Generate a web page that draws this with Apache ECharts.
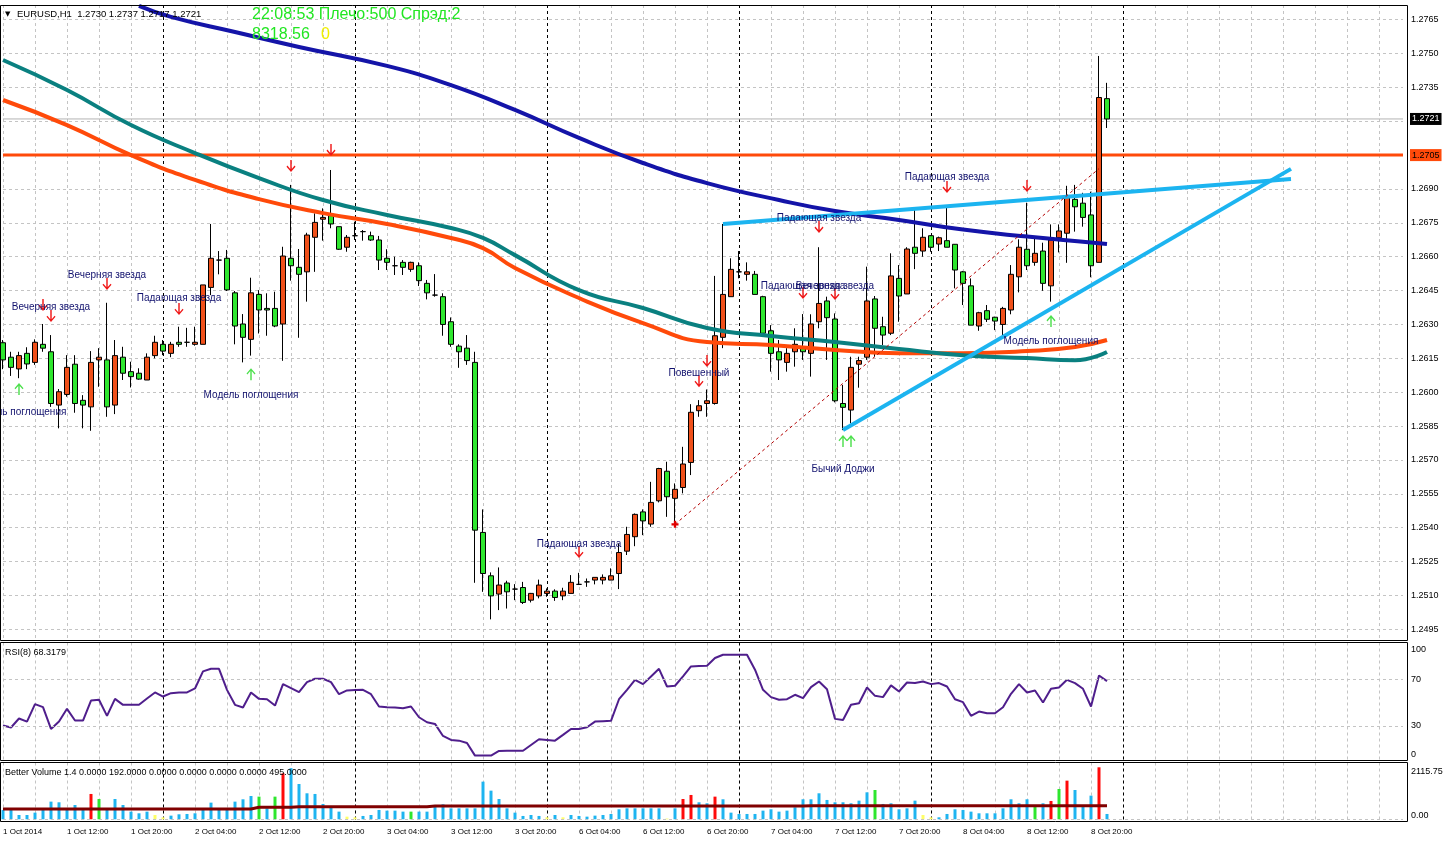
<!DOCTYPE html>
<html>
<head>
<meta charset="utf-8">
<script src="https://cdn.jsdelivr.net/npm/echarts@6/dist/echarts.min.js"></script>
<style>
html, body { margin: 0; padding: 0; background: #fff; }
#chart { width: 1448px; height: 842px; }
</style>
</head>
<body>
<div id="chart"></div>
<script>
// EURUSD H1, 1 Oct 04:00 .. 8 Oct 22:00 (139 bars), empty slots to the right
var categories = Array.from({ length: 176 }, function (_, i) { return String(i); });
var tickLabels = ['1 Oct 2014', '1 Oct 12:00', '1 Oct 20:00', '2 Oct 04:00', '2 Oct 12:00', '2 Oct 20:00',
  '3 Oct 04:00', '3 Oct 12:00', '3 Oct 20:00', '6 Oct 04:00', '6 Oct 12:00', '6 Oct 20:00',
  '7 Oct 04:00', '7 Oct 12:00', '7 Oct 20:00', '8 Oct 04:00', '8 Oct 12:00', '8 Oct 20:00'];
var dayStarts = [20, 44, 68, 92, 116, 140];

var open = [1.26219,1.26155,1.26103,1.26172,1.26132,1.26212,1.26179,1.25943,1.25990,1.26124,
  1.25964,1.25935,1.26143,1.26143,1.25943,1.26155,1.26091,1.26084,1.26054,1.26162,
  1.26212,1.26172,1.26221,1.26221,1.26212,1.26212,1.26464,1.26585,1.26593,1.26440,
  1.26302,1.26234,1.26433,1.26371,1.26371,1.26302,1.26593,1.26553,1.26533,1.26686,
  1.26766,1.26782,1.26733,1.26642,1.26693,1.26711,1.26693,1.26674,1.26593,1.26560,
  1.26575,1.26544,1.26560,1.26482,1.26430,1.26423,1.26312,1.26204,1.26195,1.26132,
  1.25379,1.25187,1.25106,1.25155,1.25128,1.25135,1.25079,1.25098,1.25109,1.25119,
  1.25098,1.25109,1.25149,1.25160,1.25168,1.25168,1.25168,1.25197,1.25296,1.25360,
  1.25470,1.25416,1.25519,1.25650,1.25530,1.25578,1.25689,1.25918,1.25950,1.25950,
  1.26243,1.26423,1.26533,1.26522,1.26522,1.26423,1.26272,1.26179,1.26132,1.26179,
  1.26201,1.26172,1.26312,1.26404,1.26324,1.25950,1.25921,1.26124,1.26155,1.26413,
  1.26290,1.26261,1.26504,1.26435,1.26642,1.26625,1.26693,1.26656,1.26671,1.26655,
  1.26533,1.26471,1.26293,1.26361,1.26332,1.26300,1.26364,1.26511,1.26633,1.26575,
  1.26625,1.26471,1.26684,1.26704,1.26854,1.26837,1.26785,1.26575,1.27300];
var high = [1.26231,1.26179,1.26179,1.26199,1.26234,1.26302,1.26253,1.26014,1.26164,1.26164,
  1.25987,1.26182,1.26195,1.26396,1.26231,1.26201,1.26135,1.26106,1.26172,1.26250,
  1.26231,1.26223,1.26290,1.26285,1.26290,1.26475,1.26745,1.26625,1.26630,1.26448,
  1.26346,1.26507,1.26452,1.26438,1.26445,1.26644,1.26918,1.26634,1.26706,1.26792,
  1.26814,1.26984,1.26733,1.26696,1.26755,1.26718,1.26711,1.26692,1.26633,1.26600,
  1.26585,1.26578,1.26575,1.26497,1.26523,1.26438,1.26331,1.26212,1.26253,1.26179,
  1.25481,1.25202,1.25224,1.25165,1.25150,1.25160,1.25111,1.25170,1.25131,1.25127,
  1.25134,1.25190,1.25200,1.25175,1.25180,1.25193,1.25220,1.25330,1.25404,1.25463,
  1.25481,1.25603,1.25665,1.25692,1.25596,1.25758,1.25947,1.25965,1.26012,1.26515,
  1.26745,1.26593,1.26625,1.26575,1.26537,1.26427,1.26297,1.26231,1.26195,1.26283,
  1.26346,1.26345,1.26642,1.26423,1.26349,1.26032,1.26157,1.26157,1.26556,1.26426,
  1.26334,1.26615,1.26563,1.26642,1.26817,1.26726,1.26696,1.26689,1.26825,1.26656,
  1.26537,1.26504,1.26356,1.26386,1.26334,1.26378,1.26563,1.26677,1.26839,1.26681,
  1.26662,1.26743,1.26743,1.26914,1.26918,1.26883,1.26888,1.27489,1.27370];
var low = [1.26102,1.26072,1.26062,1.26102,1.26121,1.26179,1.25935,1.25840,1.25980,1.25909,
  1.25840,1.25829,1.26024,1.25891,1.25903,1.26054,1.26021,1.26055,1.26054,1.26150,
  1.26164,1.26155,1.26201,1.26201,1.26206,1.26212,1.26430,1.26522,1.26448,1.26212,
  1.26132,1.26162,1.26260,1.26250,1.26288,1.26139,1.26494,1.26241,1.26401,1.26533,
  1.26671,1.26726,1.26630,1.26622,1.26674,1.26671,1.26670,1.26541,1.26541,1.26519,
  1.26519,1.26533,1.26470,1.26411,1.26423,1.26250,1.26201,1.26108,1.26121,1.25156,
  1.25116,1.24994,1.25035,1.25042,1.25079,1.25062,1.25069,1.25087,1.25094,1.25076,
  1.25079,1.25109,1.25146,1.25138,1.25149,1.25149,1.25168,1.25128,1.25279,1.25318,
  1.25367,1.25404,1.25512,1.25448,1.25414,1.25552,1.25633,1.25891,1.25891,1.25945,
  1.26195,1.26423,1.26504,1.26494,1.26433,1.26261,1.26091,1.26054,1.26091,1.26113,
  1.26143,1.26069,1.26283,1.26143,1.25955,1.25832,1.25862,1.26020,1.26143,1.26157,
  1.26209,1.26253,1.26312,1.26435,1.26545,1.26600,1.26622,1.26625,1.26642,1.26460,
  1.26386,1.26297,1.26272,1.26311,1.26275,1.26238,1.26345,1.26442,1.26541,1.26560,
  1.26449,1.26401,1.26619,1.26573,1.26711,1.26733,1.26509,1.26575,1.27170];
var close = [1.26143,1.26110,1.26162,1.26125,1.26221,1.26195,1.25950,1.26002,1.26110,1.25950,
  1.25943,1.26132,1.26155,1.25935,1.26162,1.26084,1.26069,1.26058,1.26155,1.26221,
  1.26182,1.26212,1.26212,1.26221,1.26221,1.26475,1.26593,1.26585,1.26453,1.26293,
  1.26243,1.26440,1.26364,1.26364,1.26293,1.26603,1.26560,1.26522,1.26696,1.26752,
  1.26774,1.26745,1.26633,1.26686,1.26693,1.26711,1.26674,1.26585,1.26575,1.26560,
  1.26553,1.26575,1.26494,1.26440,1.26430,1.26300,1.26212,1.26179,1.26140,1.25389,
  1.25197,1.25098,1.25146,1.25116,1.25128,1.25069,1.25109,1.25146,1.25119,1.25091,
  1.25119,1.25158,1.25149,1.25160,1.25180,1.25180,1.25187,1.25290,1.25370,1.25459,
  1.25430,1.25512,1.25662,1.25537,1.25570,1.25682,1.25911,1.25940,1.25962,1.26250,
  1.26433,1.26544,1.26533,1.26533,1.26433,1.26261,1.26172,1.26143,1.26172,1.26212,
  1.26179,1.26302,1.26393,1.26330,1.25962,1.25933,1.26110,1.26140,1.26404,1.26283,
  1.26253,1.26515,1.26426,1.26634,1.26615,1.26686,1.26642,1.26684,1.26642,1.26541,
  1.26482,1.26297,1.26352,1.26323,1.26315,1.26371,1.26522,1.26642,1.26560,1.26615,
  1.26482,1.26674,1.26714,1.26863,1.26821,1.26774,1.26560,1.27305,1.27210];

// moving averages, read at sampled bars: [bar, price]
var maNavy = [[17,1.27711],[21,1.27662],[29,1.27595],[37,1.27529],[48,1.27445],[56,1.27360],[64,1.27250],
  [72,1.27126],[80,1.27015],[88,1.26926],[97,1.26851],[104,1.26802],[112,1.26763],[120,1.26720],
  [128,1.26689],[136,1.26663],[138,1.26656]];
var maTeal = [[0,1.27471],[8,1.27338],[16,1.27183],[24,1.27059],[32,1.26948],[40,1.26851],[48,1.26785],
  [56,1.26727],[60,1.26683],[64,1.26607],[72,1.26452],[80,1.26373],[88,1.26284],[96,1.26249],
  [104,1.26222],[112,1.26191],[120,1.26164],[128,1.26151],[134,1.26142],[138,1.26178]];
var maOrange = [[0,1.27294],[8,1.27183],[16,1.27050],[24,1.26940],[32,1.26855],[40,1.26793],[48,1.26745],
  [56,1.26683],[60,1.26638],[64,1.26550],[72,1.26417],[80,1.26306],[88,1.26222],[96,1.26209],
  [104,1.26187],[112,1.26173],[120,1.26173],[128,1.26182],[134,1.26200],[138,1.26231]];

// drawn objects
var resistanceLine = [[90, 1.26745], [161, 1.26944]];
var supportLine = [[105, 1.25833], [161, 1.26989]];
var dottedTrend = [[84, 1.25415], [137, 1.26990]];
var levelPrice = 1.2705;
var bidPrice = 1.2721;

// candle pattern signals
var arrowsDown = [[5,1.26386],[6,1.26337],[13,1.26479],[22,1.26368],[36,1.27002],[41,1.27073],[72,1.25292],
  [87,1.26049],[88,1.26138],[102,1.26732],[100,1.26439],[104,1.26435],[118,1.26909],[128,1.26913]];
var arrowsUp = [[2,1.26014],[31,1.26080],[105,1.25784],[106,1.25784],[131,1.26315]];
var patternLabels = [
  [6, 1.26377, 'Вечерняя звезда'],
  [13, 1.26519, 'Вечерняя звезда'],
  [22, 1.26417, 'Падающая звезда'],
  [2, 1.25913, 'Модель поглощения'],
  [31, 1.25988, 'Модель поглощения'],
  [72, 1.25327, 'Падающая звезда'],
  [87, 1.26085, 'Повешенный'],
  [102, 1.26772, 'Падающая звезда'],
  [100, 1.26470, 'Падающая звезда'],
  [104, 1.26470, 'Вечерняя звезда'],
  [105, 1.25660, 'Бычий Доджи'],
  [118, 1.26953, 'Падающая звезда'],
  [131, 1.26227, 'Модель поглощения']
];

// RSI(8)
var rsi = [30.3,28.6,36.3,33.7,48.6,46.0,27.4,33.7,44.6,34.6,
  34.6,51.7,52.3,38.6,53.1,48.0,48.0,48.0,53.4,58.6,
  55.1,58.0,58.6,58.6,62.0,76.6,78.8,78.8,60.8,48.0,
  45.7,58.6,53.1,52.8,47.4,65.7,62.3,58.8,67.4,70.3,
  70.3,67.4,57.1,60.3,60.6,60.8,57.1,46.6,46.0,45.7,
  45.1,46.6,37.4,33.1,31.7,21.4,18.0,17.4,15.4,4.6,
  4.6,4.6,8.6,8.8,8.8,8.8,13.7,18.6,18.0,17.4,
  22.3,27.4,27.4,28.8,33.7,34.0,34.3,52.8,60.8,69.4,
  65.7,72.3,78.8,63.7,64.3,72.3,80.8,81.1,81.4,88.0,
  90.8,90.8,90.8,90.8,78.0,60.8,54.6,52.3,52.8,56.6,
  53.7,63.1,68.0,61.4,36.0,35.1,48.0,49.4,62.8,55.7,
  54.6,64.6,59.4,67.1,66.6,68.0,65.7,66.6,63.7,52.8,
  50.3,38.6,42.3,40.8,40.8,46.0,57.4,65.7,58.6,60.3,
  50.0,61.7,62.8,69.4,66.6,61.7,46.6,73.1,68.3];

// Better Volume
var volume = [380,407,176,176,271,407,719,692,407,583,
  407,1031,827,380,827,583,312,244,312,176,
  81,149,203,217,244,407,678,380,380,719,
  814,949,922,447,922,1871,2080,1437,1058,1031,
  624,515,312,108,81,136,176,380,353,353,
  312,312,312,312,542,610,447,447,447,447,
  1532,1166,827,447,271,136,176,136,81,176,
  81,176,136,108,149,176,217,407,447,447,
  447,447,447,30,447,827,990,692,651,922,
  814,271,217,217,217,353,407,312,353,488,
  814,814,1058,787,692,692,651,759,1098,1193,
  624,651,407,447,759,176,81,81,217,407,
  380,312,244,244,244,447,814,651,814,542,
  651,746,1234,1573,1193,515,963,2115.75,217];
var climaxBars = [11, 35, 85, 86, 89, 131, 133, 137];
var churnBars = [12, 32, 34, 51, 109, 129, 132];
var lowVolBars = [19, 20, 43, 44, 68, 70, 83, 115, 116];
var volAvg = [[0,420],[31,420],[32,490],[36,490],[37,515],[53,515],[54,542],[100,542],[101,556],[138,556]];

var chart = echarts.init(document.getElementById('chart'));

var FONT = 'Liberation Sans';
var candleData = open.map(function (o, i) { return [o, close[i], low[i], high[i]]; });
var volData = volume.map(function (v, i) {
  var c = '#1eb4f0';
  if (climaxBars.indexOf(i) >= 0) c = '#ff0a0a';
  else if (churnBars.indexOf(i) >= 0) c = '#2ee62e';
  else if (lowVolBars.indexOf(i) >= 0) c = '#ffff66';
  return { value: v, itemStyle: { color: c } };
});

var arrowDownPath = 'path://M4.2 0 L5.8 0 L5.8 8.6 L9 5.4 L10 6.4 L5 11.4 L0 6.4 L1 5.4 L4.2 8.6 Z';
var arrowUpPath = 'path://M4.2 11.4 L5.8 11.4 L5.8 2.8 L9 6 L10 5 L5 0 L0 5 L1 6 L4.2 2.8 Z';
var lastSlot = categories.length - 1;

function dataX(gi) {
  return { gridIndex: gi, type: 'category', data: categories, boundaryGap: false, show: false };
}
function gridX(gi, labels) {
  return {
    gridIndex: gi, type: 'category', data: categories, boundaryGap: false,
    axisLine: { show: false }, axisTick: { show: false },
    axisLabel: labels ? {
      show: true, interval: function (i) { return i % 8 === 0 && i <= 136; },
      formatter: function (v, i) { return tickLabels[Number(v) / 8]; },
      align: 'left', fontSize: 8, fontFamily: FONT, color: '#000', margin: 6
    } : { show: false },
    splitLine: { show: true, interval: function (i) { return i % 4 === 0; },
      lineStyle: { color: '#c4c4c4', type: [3, 3], width: 1 } }
  };
}
function dayX(gi) {
  return {
    gridIndex: gi, type: 'category', data: categories, boundaryGap: false, position: 'top',
    axisLine: { show: false }, axisTick: { show: false }, axisLabel: { show: false },
    splitLine: { show: true, interval: function (i) { return dayStarts.indexOf(i) >= 0; },
      lineStyle: { color: '#000', type: [3, 3], width: 1 } }
  };
}
function dummyY(gi) {
  return { gridIndex: gi, type: 'value', min: 0, max: 1, show: false };
}
function priceLine(price, color, width, labelBg, labelColor) {
  return {
    type: 'line', xAxisIndex: 0, yAxisIndex: 0, data: [[0, price], [lastSlot, price]],
    showSymbol: false, silent: true, clip: false, z: 2,
    lineStyle: { color: color, width: width },
    endLabel: { show: true, formatter: price.toFixed(4), distance: 7, color: labelColor,
      backgroundColor: labelBg, padding: [2, 2, 1, 2], fontSize: 9, fontFamily: FONT }
  };
}
var axisRich = {
  dn: { fontSize: 9, fontFamily: FONT, color: '#000', padding: [12, 0, 0, 0] },
  up: { fontSize: 9, fontFamily: FONT, color: '#000', padding: [0, 0, 12, 0] },
  dn2: { fontSize: 9, fontFamily: FONT, color: '#000', padding: [9, 0, 0, 0] },
  up2: { fontSize: 9, fontFamily: FONT, color: '#000', padding: [0, 0, 7, 0] }
};

var option = {
  backgroundColor: '#fff',
  animation: false,
  textStyle: { fontFamily: FONT },
  grid: [
    { left: 3, right: 45, top: 19.6, bottom: 212.7 },
    { left: 3, right: 45, top: 644, bottom: 81 },
    { left: 3, right: 45, top: 767.3, bottom: 22.7 },
    { left: 3, right: 45, top: 5, bottom: 201.5 },
    { left: 3, right: 45, top: 642.5, bottom: 81.5 },
    { left: 3, right: 45, top: 762.5, bottom: 20.5 }
  ],
  xAxis: [dataX(0), dataX(1), dataX(2), gridX(3, false), gridX(4, false), gridX(5, true), dayX(3), dayX(4), dayX(5)],
  yAxis: [
    {
      gridIndex: 0, type: 'value', position: 'right', offset: 4,
      min: 1.2495, max: 1.2765, interval: 0.0015,
      axisLine: { show: false }, axisTick: { show: false },
      axisLabel: { fontSize: 9, fontFamily: FONT, color: '#000', margin: 4,
        formatter: function (v) {
          var s = v.toFixed(4);
          return (s === '1.2720' || s === '1.2705') ? '' : s;
        } },
      splitLine: { lineStyle: { color: '#c4c4c4', type: [3, 3], width: 1 } }
    },
    {
      gridIndex: 1, type: 'value', position: 'right', offset: 4, min: 0, max: 100,
      axisLine: { show: false }, axisTick: { show: false },
      axisLabel: { fontSize: 9, fontFamily: FONT, color: '#000', margin: 4, customValues: [0, 30, 70, 100],
        showMinLabel: true, showMaxLabel: true, rich: axisRich,
        formatter: function (v) {
          if (v === 100) return '{dn|100}';
          if (v === 0) return '{up|0}';
          return String(v);
        } },
      splitLine: { show: false }
    },
    {
      gridIndex: 2, type: 'value', position: 'right', offset: 4, min: 0, max: 2115.75,
      axisLine: { show: false }, axisTick: { show: false },
      axisLabel: { fontSize: 9, fontFamily: FONT, color: '#000', margin: 4, customValues: [0, 108.75, 2115.75],
        showMinLabel: true, showMaxLabel: true, hideOverlap: false, rich: axisRich,
        formatter: function (v) {
          if (v === 0) return '{up2|0.00}';
          if (v > 2000) return '{dn2|' + v.toFixed(2) + '}';
          return v.toFixed(2);
        } },
      splitLine: { show: false }
    },
    dummyY(3), dummyY(4), dummyY(5)
  ],
  series: [
    {
      type: 'candlestick', xAxisIndex: 0, yAxisIndex: 0, data: candleData, barWidth: 5, clip: false,
      itemStyle: { color: '#f0501a', color0: '#2ee62e', borderColor: '#000', borderColor0: '#000', borderWidth: 1 }
    },
    priceLine(bidPrice, '#b4b4b4', 1, '#000', '#fff'),
    priceLine(levelPrice, '#ff4a0a', 3, '#ff4a0a', '#000'),
    { type: 'line', xAxisIndex: 0, yAxisIndex: 0, data: maOrange, smooth: true, showSymbol: false, clip: false,
      lineStyle: { color: '#ff4a0a', width: 4 }, z: 3 },
    { type: 'line', xAxisIndex: 0, yAxisIndex: 0, data: maTeal, smooth: true, showSymbol: false, clip: false,
      lineStyle: { color: '#0a8080', width: 4 }, z: 3 },
    { type: 'line', xAxisIndex: 0, yAxisIndex: 0, data: maNavy, smooth: true, showSymbol: false, clip: false,
      lineStyle: { color: '#1414a8', width: 4 }, z: 3 },
    { type: 'line', xAxisIndex: 0, yAxisIndex: 0, data: resistanceLine, showSymbol: false, clip: false,
      lineStyle: { color: '#1cb4f0', width: 4 }, z: 4 },
    { type: 'line', xAxisIndex: 0, yAxisIndex: 0, data: supportLine, showSymbol: false, clip: false,
      lineStyle: { color: '#1cb4f0', width: 4 }, z: 4 },
    { type: 'line', xAxisIndex: 0, yAxisIndex: 0, data: dottedTrend, showSymbol: false, clip: false,
      lineStyle: { color: '#b40000', width: 1, type: [3, 3] }, z: 4 },
    { type: 'scatter', xAxisIndex: 0, yAxisIndex: 0, data: [dottedTrend[0]], symbol: 'path://M2 0 H4 V2 H6 V4 H4 V6 H2 V4 H0 V2 H2 Z',
      symbolSize: 7, itemStyle: { color: '#e00000', opacity: 1 }, silent: true, z: 5 },
    { type: 'scatter', xAxisIndex: 0, yAxisIndex: 0, data: arrowsDown, symbol: arrowDownPath, symbolSize: [9, 12],
      itemStyle: { color: '#f01818', opacity: 1 }, silent: true, clip: false, z: 6 },
    { type: 'scatter', xAxisIndex: 0, yAxisIndex: 0, data: arrowsUp, symbol: arrowUpPath, symbolSize: [9, 12],
      itemStyle: { color: '#4ee04e', opacity: 1 }, silent: true, clip: false, z: 6 },
    { type: 'scatter', xAxisIndex: 0, yAxisIndex: 0, data: patternLabels, symbolSize: 2, silent: true, clip: false, z: 7,
      itemStyle: { color: 'rgba(0,0,0,0)', opacity: 1 },
      label: { show: true, position: 'inside', formatter: function (p) { return p.data[2]; },
        color: '#12126e', opacity: 1, fontSize: 10, fontFamily: FONT } },
    {
      type: 'line', xAxisIndex: 1, yAxisIndex: 1, data: rsi, showSymbol: false,
      lineStyle: { color: '#4f1e8c', width: 2 },
      markLine: { silent: true, symbol: 'none', label: { show: false },
        lineStyle: { color: '#c4c4c4', type: [3, 3], width: 1 },
        data: [{ yAxis: 30 }, { yAxis: 70 }] }
    },
    {
      type: 'bar', xAxisIndex: 2, yAxisIndex: 2, data: volData, barWidth: 3,
      markLine: { silent: true, symbol: 'none', label: { show: false },
        lineStyle: { color: '#c4c4c4', type: [3, 3], width: 1 },
        data: [{ yAxis: 0 }] }
    },
    { type: 'line', xAxisIndex: 2, yAxisIndex: 2, data: volAvg, showSymbol: false,
      lineStyle: { color: '#800000', width: 3 }, z: 4 }
  ],
  graphic: [
    { type: 'rect', shape: { x: 0.5, y: 5.5, width: 1407, height: 635 }, style: { fill: 'none', stroke: '#000', lineWidth: 1 }, z: 100 },
    { type: 'rect', shape: { x: 0.5, y: 642.5, width: 1407, height: 118 }, style: { fill: 'none', stroke: '#000', lineWidth: 1 }, z: 100 },
    { type: 'rect', shape: { x: 0.5, y: 762.5, width: 1407, height: 59 }, style: { fill: 'none', stroke: '#000', lineWidth: 1 }, z: 100 },
    { type: 'text', x: 5, y: 14, style: { text: '▼', fill: '#000', font: '7px DejaVu Sans', verticalAlign: 'middle' }, z: 101 },
    { type: 'text', x: 17, y: 14, style: { text: 'EURUSD,H1  1.2730 1.2737 1.2717 1.2721', fill: '#000', font: '9.5px Liberation Sans', verticalAlign: 'middle' }, z: 101 },
    { type: 'text', x: 252, y: 15, style: { text: '22:08:53 Плечо:500 Спрэд:2', fill: '#22e622', font: '16px Liberation Sans', verticalAlign: 'middle' }, z: 101 },
    { type: 'text', x: 252, y: 35, style: { text: '8318.56', fill: '#22e622', font: '16px Liberation Sans', verticalAlign: 'middle' }, z: 101 },
    { type: 'text', x: 321, y: 35, style: { text: '0', fill: '#f0f000', font: '16px Liberation Sans', verticalAlign: 'middle' }, z: 101 },
    { type: 'text', x: 5, y: 653, style: { text: 'RSI(8) 68.3179', fill: '#000', font: '9px Liberation Sans', verticalAlign: 'middle' }, z: 101 },
    { type: 'text', x: 5, y: 773, style: { text: 'Better Volume 1.4 0.0000 192.0000 0.0000 0.0000 0.0000 0.0000 495.0000', fill: '#000', font: '9px Liberation Sans', verticalAlign: 'middle' }, z: 101 }
  ]
};

chart.setOption(option);
</script>
</body>
</html>
